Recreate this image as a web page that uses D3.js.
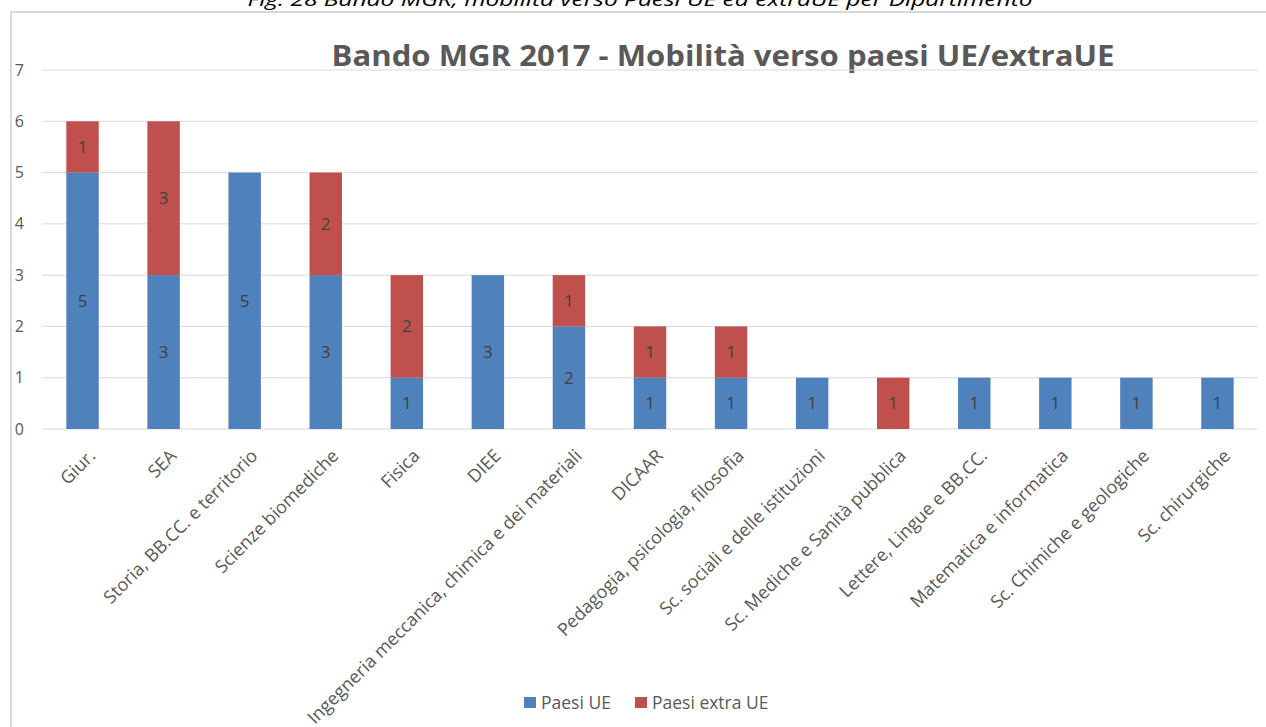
<!DOCTYPE html>
<html>
<head>
<meta charset="utf-8">
<script src="https://cdn.jsdelivr.net/npm/d3@7"></script>
<style>
  body { margin: 0; background: #fff; }
  svg { display: block; font-family: "Open Sans", sans-serif; }
</style>
</head>
<body>
<svg width="1266" height="727"></svg>
<script>
const svg = d3.select("svg");
const width = 1266, height = 727;

// data
const departments = ["Giur.", "SEA", "Storia, BB.CC. e territorio", "Scienze biomediche", "Fisica", "DIEE",
  "Ingegneria meccanica, chimica e dei materiali", "DICAAR", "Pedagogia, psicologia, filosofia",
  "Sc. sociali e delle istituzioni", "Sc. Mediche e Sanità pubblica", "Lettere, Lingue e BB.CC.",
  "Matematica e informatica", "Sc. Chimiche e geologiche", "Sc. chirurgiche"];
const paesiUE =      [5, 3, 5, 3, 1, 3, 2, 1, 1, 1, 0, 1, 1, 1, 1];
const paesiExtraUE = [1, 3, 0, 2, 2, 0, 1, 1, 1, 0, 1, 0, 0, 0, 0];
const seriesNames = ["Paesi UE", "Paesi extra UE"];
const colors = ["#4f81bd", "#c0504d"];
const yTicks = [0, 1, 2, 3, 4, 5, 6, 7];

const margin = {left: 42, right: 8, top: 70, bottom: 298};

const x = d3.scaleBand().domain(departments).range([margin.left, width - margin.right]).paddingInner(0.6).paddingOuter(0.3);
const y = d3.scaleLinear().domain([0, 7]).range([height - margin.bottom, margin.top]);

// caption above the frame (cut off at top, as in the source page)
svg.append("text")
  .attr("x", 640).attr("y", 6)
  .attr("text-anchor", "middle")
  .attr("font-style", "italic")
  .attr("font-size", 19)
  .attr("fill", "#000")
  .attr("textLength", 785).attr("lengthAdjust", "spacingAndGlyphs")
  .text("Fig. 28 Bando MGR, mobilità verso Paesi UE ed extraUE per Dipartimento");

// frame
svg.append("path")
  .attr("d", `M11,${height} V12 H${width}`)
  .attr("fill", "none").attr("stroke", "#d9d9d9").attr("stroke-width", 2);

// title
svg.append("text")
  .attr("x", 723).attr("y", 66)
  .attr("text-anchor", "middle")
  .attr("font-weight", "bold")
  .attr("font-size", 29)
  .attr("fill", "#595959")
  .attr("textLength", 783).attr("lengthAdjust", "spacingAndGlyphs")
  .text("Bando MGR 2017 - Mobilità verso paesi UE/extraUE");

// gridlines
svg.append("g")
  .selectAll("line")
  .data(yTicks)
  .join("line")
  .attr("x1", margin.left).attr("x2", width - margin.right)
  .attr("y1", d => y(d)).attr("y2", d => y(d))
  .attr("stroke", "#d9d9d9").attr("stroke-width", 1);

// y axis labels
const yAxis = d3.axisLeft(y).tickValues(yTicks).tickFormat(d3.format("d")).tickSize(0).tickPadding(0);
svg.append("g")
  .attr("transform", "translate(24,0)")
  .call(yAxis)
  .call(g => g.select(".domain").remove())
  .selectAll("text")
  .attr("font-size", 16).attr("fill", "#595959").attr("font-family", "Open Sans, sans-serif");

// stacked bars
const rows = departments.map((d, i) => ({dep: d, ue: paesiUE[i], extra: paesiExtraUE[i]}));
const stacked = d3.stack().keys(["ue", "extra"])(rows);

const layers = svg.append("g").selectAll("g")
  .data(stacked)
  .join("g")
  .attr("fill", (d, i) => colors[i]);

layers.selectAll("rect")
  .data(d => d)
  .join("rect")
  .attr("x", d => x(d.data.dep))
  .attr("width", x.bandwidth())
  .attr("y", d => y(d[1]))
  .attr("height", d => y(d[0]) - y(d[1]));

// data labels
layers.selectAll("text")
  .data(d => d.filter(v => v[1] - v[0] > 0))
  .join("text")
  .attr("x", d => x(d.data.dep) + x.bandwidth() / 2)
  .attr("y", d => (y(d[0]) + y(d[1])) / 2)
  .attr("dy", "0.35em")
  .attr("text-anchor", "middle")
  .attr("font-size", 17)
  .attr("fill", "#404040")
  .text(d => d[1] - d[0]);

// x axis labels, rotated
const xAxis = d3.axisBottom(x).tickSize(0).tickPadding(0);
svg.append("g")
  .attr("transform", `translate(0,${y(0)})`)
  .call(xAxis)
  .call(g => g.select(".domain").remove())
  .selectAll("text")
  .attr("font-size", 18).attr("fill", "#595959").attr("font-family", "Open Sans, sans-serif")
  .attr("text-anchor", "end")
  .attr("dy", "0")
  .attr("y", 0)
  .attr("transform", "translate(14,28) rotate(-45)");

// legend
const legendX = [524, 635];
const legend = svg.append("g").selectAll("g")
  .data(seriesNames)
  .join("g")
  .attr("transform", (d, i) => `translate(${legendX[i]},697)`);
legend.append("rect").attr("width", 12).attr("height", 11).attr("fill", (d, i) => colors[i]);
legend.append("text")
  .attr("x", 17).attr("y", 12)
  .attr("font-size", 17.5).attr("fill", "#595959")
  .text(d => d);
</script>
</body>
</html>
